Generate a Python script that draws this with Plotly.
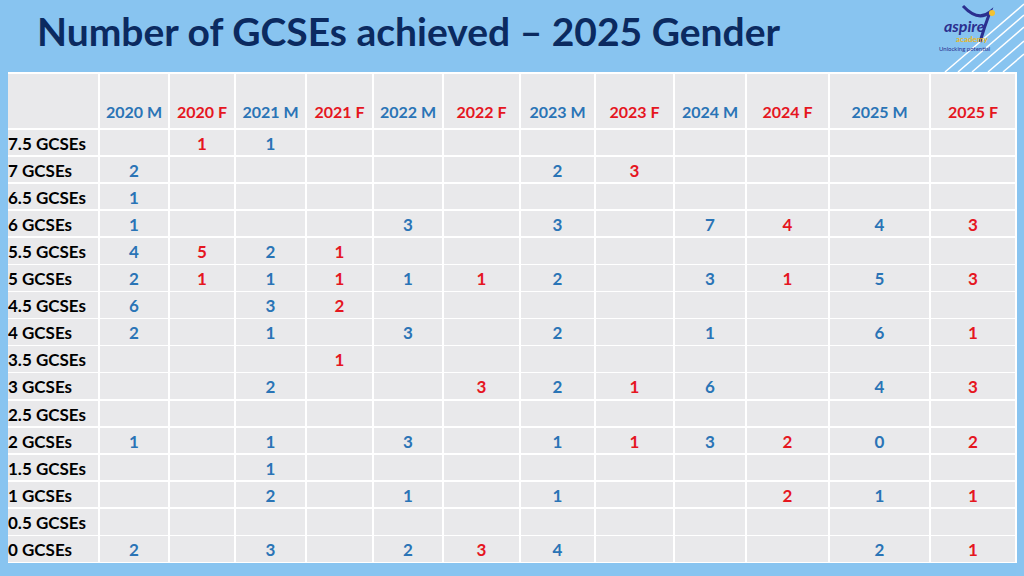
import plotly.graph_objects as go

# row labels (top to bottom) and column headers
rows = ["7.5 GCSEs", "7 GCSEs", "6.5 GCSEs", "6 GCSEs", "5.5 GCSEs", "5 GCSEs",
        "4.5 GCSEs", "4 GCSEs", "3.5 GCSEs", "3 GCSEs", "2.5 GCSEs", "2 GCSEs",
        "1.5 GCSEs", "1 GCSEs", "0.5 GCSEs", "0 GCSEs"]
headers = ["2020 M", "2020 F", "2021 M", "2021 F", "2022 M", "2022 F",
           "2023 M", "2023 F", "2024 M", "2024 F", "2025 M", "2025 F"]

# counts per column, same order as rows (None = blank cell)
m2020 = [None, 2, 1, 1, 4, 2, 6, 2, None, None, None, 1, None, None, None, 2]
f2020 = [1, None, None, None, 5, 1, None, None, None, None, None, None, None, None, None, None]
m2021 = [1, None, None, None, 2, 1, 3, 1, None, 2, None, 1, 1, 2, None, 3]
f2021 = [None, None, None, None, 1, 1, 2, None, 1, None, None, None, None, None, None, None]
m2022 = [None, None, None, 3, None, 1, None, 3, None, None, None, 3, None, 1, None, 2]
f2022 = [None, None, None, None, None, 1, None, None, None, 3, None, None, None, None, None, 3]
m2023 = [None, 2, None, 3, None, 2, None, 2, None, 2, None, 1, None, 1, None, 4]
f2023 = [None, 3, None, None, None, None, None, None, None, 1, None, 1, None, None, None, None]
m2024 = [None, None, None, 7, None, 3, None, 1, None, 6, None, 3, None, None, None, None]
f2024 = [None, None, None, 4, None, 1, None, None, None, None, None, 2, None, 2, None, None]
m2025 = [None, None, None, 4, None, 5, None, 6, None, 4, None, 0, None, 1, None, 2]
f2025 = [None, None, None, 3, None, 3, None, 1, None, 3, None, 2, None, 1, None, 1]

columns = [m2020, f2020, m2021, f2021, m2022, f2022,
           m2023, f2023, m2024, f2024, m2025, f2025]

BLUE = "#2A74B6"
RED = "#E5161F"
NAVY = "#0B2A60"
BG = "#88C4F0"
CELL = "#E9E9EB"
LOGO = "#2B2F8F"

col_colors = [BLUE if h.endswith("M") else RED for h in headers]
labels = [r.replace(" ", "\u00a0") for r in rows]
cells = [labels] + [["" if v is None else str(v) for v in c] for c in columns]

# table starts at x=0 so the row labels sit flush at x=8; a blue strip hides 0-8
fig = go.Figure(go.Table(
    domain=dict(x=[0, 1016 / 1024], y=[0, 1 - 73 / 576]),
    columnwidth=[99, 70, 66, 71, 67, 70, 77, 75, 79, 72, 83, 101, 86],
    header=dict(
        values=[""] + ["\u00a0<br>" + h.replace(" ", "\u00a0") for h in headers],
        fill_color=CELL,
        line=dict(color="white", width=1.5),
        align="center",
        height=49,
        font=dict(family="Lato", size=16, color=["black"] + col_colors, weight="bold"),
    ),
    cells=dict(
        values=cells,
        fill_color=CELL,
        line=dict(color="white", width=1.5),
        align=["left"] + ["center"] * 12,
        height=27.1,
        font=dict(family="Lato", size=17, color=["black"] + col_colors, weight="bold"),
    ),
))

fig.add_shape(type="rect", xref="paper", yref="paper", x0=0, x1=8 / 1024,
              y0=0, y1=1, fillcolor=BG, line_width=0, layer="above")

# white diagonal stripes behind the logo
for x0, y0, x1, y1 in [(945, 72, 1024, 4), (958, 72, 1024, 15), (972, 72, 1024, 27),
                       (988, 72, 1024, 41), (1003, 72, 1024, 54)]:
    fig.add_shape(type="line", xref="paper", yref="paper",
                  x0=x0 / 1024, y0=1 - y0 / 576, x1=x1 / 1024, y1=1 - y1 / 576,
                  line=dict(color="white", width=1.5), layer="below")

# logo figure: two raised arms and a body stroke
fig.add_shape(type="path", xref="paper", yref="paper",
              path="M %f,%f Q %f,%f %f,%f Q %f,%f %f,%f" % (
                  963 / 1024, 1 - 6 / 576, 978 / 1024, 1 - 22 / 576,
                  990 / 1024, 1 - 12 / 576, 984 / 1024, 1 - 28 / 576,
                  980 / 1024, 1 - 42 / 576),
              line=dict(color=LOGO, width=3))
fig.add_shape(type="circle", xref="paper", yref="paper",
              x0=989 / 1024, x1=995 / 1024, y0=1 - 16 / 576, y1=1 - 10 / 576,
              fillcolor="#F2C230", line_width=0)

fig.add_annotation(text="Number of GCSEs achieved – 2025 Gender",
                   xref="paper", yref="paper", x=35 / 1024, y=1 - 31 / 576,
                   xanchor="left", yanchor="middle", showarrow=False,
                   font=dict(family="Lato", size=39, color=NAVY, weight="bold"))
fig.add_annotation(text="<i>aspire</i>", xref="paper", yref="paper",
                   x=964 / 1024, y=1 - 25 / 576, xanchor="center", yanchor="middle",
                   showarrow=False,
                   font=dict(family="Lato", size=16, color=LOGO, weight="bold"))
fig.add_annotation(text="academy", xref="paper", yref="paper",
                   x=972 / 1024, y=1 - 39 / 576, xanchor="center", yanchor="middle",
                   showarrow=False,
                   font=dict(family="Lato", size=8, color="#E8B820", weight="bold"))
fig.add_annotation(text="Unlocking potential", xref="paper", yref="paper",
                   x=964 / 1024, y=1 - 49 / 576, xanchor="center", yanchor="middle",
                   showarrow=False,
                   font=dict(family="Lato", size=6, color=LOGO))

fig.update_layout(
    width=1024, height=576,
    margin=dict(l=0, r=0, t=0, b=0),
    paper_bgcolor=BG,
    plot_bgcolor=BG,
)

fig.write_html("out.html", config={"displayModeBar": False},
               post_script="document.body.style.margin='0';"
                           "document.body.style.background='%s';" % BG)
